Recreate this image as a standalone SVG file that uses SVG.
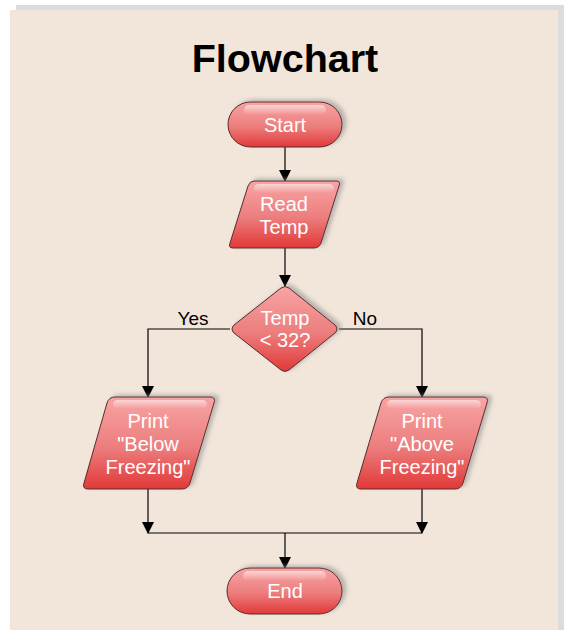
<svg xmlns="http://www.w3.org/2000/svg" width="569" height="630" viewBox="0 0 569 630">
<defs>
<linearGradient id="g" x1="0" y1="0" x2="0" y2="1">
<stop offset="0" stop-color="#F8A4A4"/>
<stop offset="0.55" stop-color="#EC7D7D"/>
<stop offset="1" stop-color="#E23838"/>
</linearGradient>
<linearGradient id="hl" x1="0" y1="0" x2="0" y2="1">
<stop offset="0" stop-color="#ffffff" stop-opacity="0.55"/>
<stop offset="1" stop-color="#ffffff" stop-opacity="0"/>
</linearGradient>
<filter id="sh" x="-20%" y="-20%" width="140%" height="140%">
<feDropShadow dx="4" dy="-2" stdDeviation="2" flood-color="#888" flood-opacity="0.55"/>
</filter>
<marker id="ah" markerWidth="12" markerHeight="12" refX="11" refY="6" orient="auto" markerUnits="userSpaceOnUse">
<path d="M0,0 L12,6 L0,12 Z" fill="#000"/>
</marker>
</defs>
<style>
.shape{fill:url(#g);stroke:#5a2a2a;stroke-width:1;filter:url(#sh)}
.hl{fill:url(#hl)}
.t{font-family:"Liberation Sans",Arial,sans-serif;font-size:20px;fill:#fff;text-anchor:middle}
.lbl{font-family:"Liberation Sans",Arial,sans-serif;font-size:19px;fill:#000;text-anchor:middle}
.c{fill:none;stroke:#000;stroke-width:1.2}
</style>
<rect x="16" y="5" width="548" height="630" fill="#dcdcdc"/>
<rect x="10" y="10" width="548" height="625" fill="#F2E6DB"/>
<text x="285" y="72" font-family="Liberation Sans,Arial,sans-serif" font-size="39.5" font-weight="bold" text-anchor="middle" fill="#000">Flowchart</text>

<g id="connectors">
<path class="c" d="M285,147 V181" marker-end="url(#ah)"/>
<path class="c" d="M285,248 V286" marker-end="url(#ah)"/>
<path class="c" d="M230,329 H148 V397" marker-end="url(#ah)"/>
<path class="c" d="M339,329 H422 V397" marker-end="url(#ah)"/>
<path class="c" d="M148,489 V533" marker-end="url(#ah)"/>
<path class="c" d="M422,489 V533" marker-end="url(#ah)"/>
<path class="c" d="M148,533 H422"/>
<path class="c" d="M285,533 V568" marker-end="url(#ah)"/>
<text class="lbl" x="193" y="325">Yes</text>
<text class="lbl" x="365" y="325">No</text>
</g>

<g id="start">
<rect class="shape" x="228" y="102" width="114" height="45" rx="22.5"/>
<rect class="hl" x="244" y="105" width="82" height="10" rx="5"/>
<text class="t" x="285" y="132">Start</text>
</g>

<g id="read">
<path class="shape" d="M254,181 H336 Q341,181 339,186 L321,243 Q319,248 314,248 H233 Q228,248 230,243 L248,186 Q250,181 254,181 Z"/>
<rect class="hl" x="254" y="184" width="80" height="9" rx="4.5"/>
<text class="t" x="284" y="211">Read</text>
<text class="t" x="284" y="234">Temp</text>
</g>

<g id="decision">
<path class="shape" d="M281,288 Q285,285 289,288 L335,325 Q339,329 335,333 L289,370 Q285,373 281,370 L234,333 Q230,329 234,325 Z"/>
<text class="t" x="285" y="325">Temp</text>
<text class="t" x="285" y="347">&lt; 32?</text>
</g>

<g id="below">
<path class="shape" d="M115,397 H210 Q216,397 214,403 L190,483 Q188,489 182,489 H88 Q82,489 84,483 L107,403 Q109,397 115,397 Z"/>
<rect class="hl" x="113" y="400" width="94" height="9" rx="4.5"/>
<text class="t" x="148" y="428">Print</text>
<text class="t" x="148" y="451">"Below</text>
<text class="t" x="148" y="474">Freezing"</text>
</g>

<g id="above">
<path class="shape" d="M389,397 H483 Q489,397 487,403 L463,483 Q461,489 455,489 H361 Q355,489 357,483 L381,403 Q383,397 389,397 Z"/>
<rect class="hl" x="387" y="400" width="94" height="9" rx="4.5"/>
<text class="t" x="422" y="428">Print</text>
<text class="t" x="422" y="451">"Above</text>
<text class="t" x="422" y="474">Freezing"</text>
</g>

<g id="end">
<rect class="shape" x="227" y="568" width="115" height="46" rx="23"/>
<rect class="hl" x="243" y="571" width="83" height="10" rx="5"/>
<text class="t" x="285" y="598">End</text>
</g>
</svg>
